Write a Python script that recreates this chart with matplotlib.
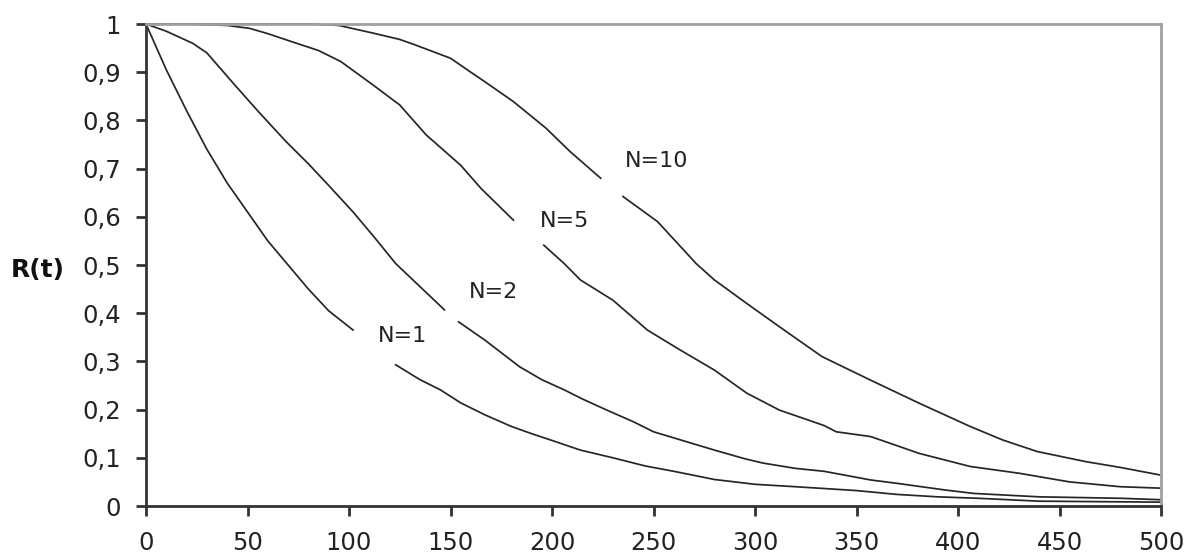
import numpy as np
import matplotlib
matplotlib.use("Agg")
import matplotlib.pyplot as plt
from matplotlib.ticker import FuncFormatter

nan = np.nan

# N=1
t_n1 = [0, 10, 20, 30, 40, 50, 60, 70, 80, 90, 102, nan,
        123, 135, 145, 155, 167, 180, 190, 200, 214, 230, 246, 260, 280,
        300, 320, 335, 350, 370, 390, 410, 440, 470, 500]
r_n1 = [1.0, 0.905, 0.82, 0.74, 0.67, 0.61, 0.55, 0.50, 0.45, 0.405, 0.365, nan,
        0.293, 0.262, 0.241, 0.214, 0.189, 0.165, 0.150, 0.136, 0.116, 0.100, 0.083, 0.072, 0.055,
        0.045, 0.040, 0.036, 0.032, 0.024, 0.019, 0.016, 0.010, 0.009, 0.008]

# N=2
t_n2 = [0, 10, 23, 30, 43, 55, 69, 80, 90, 102, 112, 123, 135, 147, nan,
        154, 167, 184, 195, 206, 215, 227, 240, 250, 265, 280, 295, 304, 320, 334,
        357, 370, 394, 408, 440, 480, 500]
r_n2 = [1.0, 0.985, 0.96, 0.94, 0.877, 0.82, 0.756, 0.71, 0.665, 0.61, 0.56, 0.503, 0.455, 0.407, nan,
        0.382, 0.344, 0.289, 0.262, 0.241, 0.222, 0.199, 0.175, 0.154, 0.135, 0.116, 0.098, 0.089, 0.078, 0.072,
        0.054, 0.047, 0.033, 0.026, 0.019, 0.016, 0.013]

# N=5
t_n5 = [0, 20, 40, 51, 60, 72, 85, 96, 112, 125, 138, 155, 165, 181, nan,
        196, 206, 214, 230, 247, 263, 280, 296, 312, 334, 340, 357, 381, 406, 430, 455, 480, 500]
r_n5 = [1.0, 1.0, 0.997, 0.991, 0.98, 0.963, 0.945, 0.922, 0.873, 0.832, 0.770, 0.707, 0.659, 0.593, nan,
        0.541, 0.503, 0.469, 0.427, 0.365, 0.324, 0.282, 0.234, 0.199, 0.167, 0.154, 0.144, 0.109, 0.082, 0.068, 0.050, 0.040, 0.037]

# N=10
t_n10 = [0, 50, 82, 95, 112, 125, 133, 150, 160, 167, 181, 197, 209, 224, nan,
         235, 252, 271, 280, 296, 312, 333, 357, 381, 406, 422, 439, 463, 480, 500]
r_n10 = [1.0, 1.0, 1.0, 0.997, 0.981, 0.968, 0.956, 0.929, 0.90, 0.880, 0.839, 0.784, 0.735, 0.680, nan,
         0.642, 0.590, 0.503, 0.469, 0.42, 0.372, 0.31, 0.261, 0.213, 0.165, 0.137, 0.113, 0.092, 0.080, 0.064]

labels = ["N=1", "N=2", "N=5", "N=10"]
label_t = [126.6, 171.4, 206, 251.5]
label_r = [0.352, 0.445, 0.592, 0.716]

x_ticks = [0, 50, 100, 150, 200, 250, 300, 350, 400, 450, 500]
y_ticks = [0, 0.1, 0.2, 0.3, 0.4, 0.5, 0.6, 0.7, 0.8, 0.9, 1.0]

fig = plt.figure(figsize=(11.97, 5.6), dpi=100)
ax = fig.add_axes([146/1197, 54/560, (1161-146)/1197, (506-24)/560])

line_color = "#262626"
for t, r in [(t_n1, r_n1), (t_n2, r_n2), (t_n5, r_n5), (t_n10, r_n10)]:
    ax.plot(t, r, color=line_color, lw=1.25, clip_on=False)

for lab, tx, ry in zip(labels, label_t, label_r):
    ax.text(tx, ry, lab, ha="center", va="center", fontsize=16,
            family="DejaVu Sans", color="#222222")

ax.set_xlim(0, 500)
ax.set_ylim(0, 1)
ax.set_xticks(x_ticks)
ax.set_yticks(y_ticks)

def fmt(v, pos):
    if abs(v - round(v)) < 1e-9:
        return str(int(round(v)))
    return ("%.1f" % v).replace(".", ",")

ax.yaxis.set_major_formatter(FuncFormatter(fmt))
ax.tick_params(axis="both", direction="out", length=7, width=2, color="#333333",
               labelsize=17.5, labelcolor="#222222")
ax.tick_params(axis="y", pad=11)
ax.tick_params(axis="x", pad=11)

for s in ["left", "bottom"]:
    ax.spines[s].set_color("#333333")
    ax.spines[s].set_linewidth(2)
for s in ["top", "right"]:
    ax.spines[s].set_color("#a0a0a0")
    ax.spines[s].set_linewidth(2)

fig.text(38/1197, 1 - 270/560, "R(t)", ha="center", va="center",
         fontsize=18, fontweight="bold", color="#111111")

fig.savefig("out.png", dpi=100, facecolor="white")
